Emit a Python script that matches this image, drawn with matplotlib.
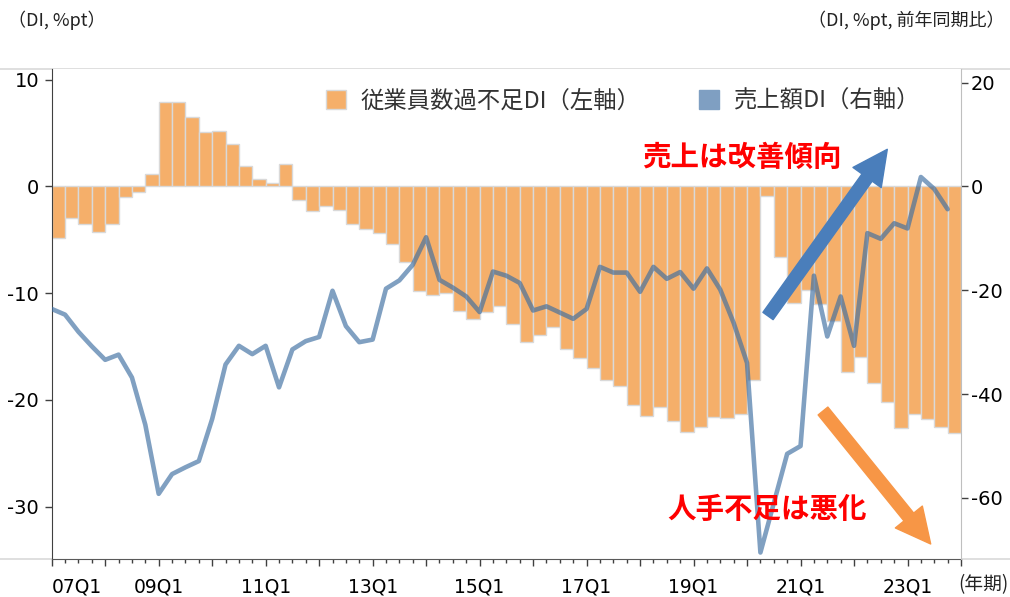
import numpy as np
import matplotlib
matplotlib.use("Agg")
import matplotlib.pyplot as plt
from matplotlib.patches import Patch, FancyArrowPatch
from matplotlib.lines import Line2D

plt.rcParams["axes.unicode_minus"] = False

# ---- data (quarterly, 2007Q1 .. 2023Q4) ----
emp_di = [-4.8, -3.0, -3.5, -4.3, -3.5, -1.0, -0.5, 1.2,
          7.9, 7.9, 6.5, 5.1, 5.2, 4.0, 1.95, 0.7,
          0.3, 2.1, -1.25, -2.3, -1.8, -2.2, -3.5, -4.0,
          -4.4, -5.4, -7.1, -9.8, -10.2, -10.0, -11.7, -12.4,
          -11.8, -11.2, -12.9, -14.6, -13.9, -13.2, -15.2, -16.1,
          -17.0, -18.1, -18.7, -20.5, -21.5, -20.7, -22.0, -23.0,
          -22.5, -21.6, -21.7, -21.3, -18.1, -0.9, -6.6, -10.9,
          -9.7, -11.0, -12.6, -17.4, -16.0, -18.4, -20.2, -22.6,
          -21.3, -21.8, -22.5, -23.1]
sales_di = [-23.6, -24.7, -28.0, -30.8, -33.4, -32.4, -36.8, -45.9,
            -59.2, -55.4, -54.1, -52.9, -44.8, -34.3, -30.7, -32.3,
            -30.7, -38.7, -31.4, -29.8, -29.0, -20.1, -26.9, -30.0,
            -29.5, -19.7, -18.1, -15.1, -9.8, -18.0, -19.5, -21.2,
            -24.2, -16.4, -17.2, -18.6, -23.9, -23.1, -24.3, -25.5,
            -23.6, -15.5, -16.6, -16.6, -20.3, -15.5, -17.8, -16.5,
            -19.7, -15.8, -19.9, -26.3, -34.0, -70.5, -61.0, -51.5,
            -50.0, -17.2, -28.9, -21.2, -30.7, -9.0, -10.1, -7.1,
            -8.1, 1.8, -0.5, -4.4]
tick_labels = ["07Q1", "09Q1", "11Q1", "13Q1", "15Q1", "17Q1", "19Q1", "21Q1", "23Q1"]
left_ticks = [10, 0, -10, -20, -30]
right_ticks = [20, 0, -20, -40, -60]
legend_labels = ["従業員数過不足DI（左軸）", "売上額DI（右軸）"]

W, H = 1010, 597
BAR_C = "#F5AF6A"
LINE_C = (60 / 255, 109 / 255, 161 / 255)
CJK = ["Noto Sans CJK JP", "DejaVu Sans"]

def fx(px):
    return px / W

def fy(py):
    return 1 - py / H

fig = plt.figure(figsize=(W / 100, H / 100), dpi=100)
ax = fig.add_axes([fx(51.7), fy(559), (961 - 51.7) / W, (559 - 69) / H])
ax2 = ax.twinx()

n = len(emp_di)
x = np.arange(n)
ax.bar(x, emp_di, width=1.0, align="edge", color=BAR_C, edgecolor="#D9D9D9",
       linewidth=1.0, zorder=2)
ax2.plot(x, sales_di, color=LINE_C, alpha=0.65, lw=3.3, solid_joinstyle="round",
         solid_capstyle="round")

ax.set_xlim(0, n)
ax.set_ylim(-34.9, 11.0)
ax2.set_ylim(-71.75, 22.6)

# x ticks
major = np.arange(0, n + 1, 4)
labs = [tick_labels[m // 8] if (m % 8 == 0 and m // 8 < len(tick_labels)) else "" for m in major]
ax.set_xticks(major)
ax.set_xticklabels(labs)
ax.set_xticks(np.arange(0, n + 1, 1), minor=True)
ax.get_xticklabels()[0].set_ha("left")
ax.tick_params(axis="x", which="major", direction="out", length=5, width=1,
               color="#404040", pad=8, labelsize=13.5)
ax.tick_params(axis="x", which="minor", direction="out", length=3, width=1,
               color="#404040")

ax.set_yticks(left_ticks)
ax.tick_params(axis="y", direction="out", length=5, width=1, color="#404040",
               labelsize=14, pad=4)
ax2.set_yticks(right_ticks)
ax2.tick_params(axis="y", direction="out", length=5, width=1, color="#404040",
                labelsize=14, pad=2)

for s in ["top", "right"]:
    ax.spines[s].set_visible(False)
ax.spines["left"].set_color("#404040")
ax.spines["bottom"].set_color("#595959")
for s in ["top", "left", "bottom"]:
    ax2.spines[s].set_visible(False)
ax2.spines["right"].set_color("#BFBFBF")

# frame lines across figure
for yy in (69, 559):
    fig.add_artist(Line2D([0, 1], [fy(yy), fy(yy)], transform=fig.transFigure,
                          color="#D9D9D9", lw=1.2, zorder=0))
ax.spines["bottom"].set_zorder(3)

# headers
fig.text(fx(8), fy(20), "（DI, %pt）", fontsize=13, ha="left", va="center",
         family=CJK, color="#222222")
fig.text(fx(1005), fy(20), "（DI, %pt, 前年同期比）", fontsize=13, ha="right",
         va="center", family=CJK, color="#222222")
fig.text(fx(1008), fy(585), "(年期)", fontsize=13.5, ha="right", va="center",
         family=CJK, color="#222222")

# legend
handles = [Patch(facecolor=BAR_C, edgecolor="#D9D9D9", label=legend_labels[0]),
           Patch(facecolor="#7F9FC2", edgecolor="#7F9FC2", label=legend_labels[1])]
fig.legend(handles=handles, loc="center left", bbox_to_anchor=(fx(326), fy(101)),
           bbox_transform=fig.transFigure, ncol=2, frameon=False,
           prop={"family": CJK, "size": 16.8}, handlelength=0.85, handleheight=0.85,
           handletextpad=0.65, columnspacing=2.5, borderpad=0, borderaxespad=0,
           labelcolor="#333333")

# annotations
fig.text(fx(741.7), fy(158), "売上は改善傾向", color="#FF0000", fontsize=20.5,
         fontweight="bold", ha="center", va="center", family=CJK)
fig.text(fx(766.7), fy(510), "人手不足は悪化", color="#FF0000", fontsize=20.5,
         fontweight="bold", ha="center", va="center", family=CJK)

style = "simple,head_length=0.5,head_width=0.5,tail_width=0.18"
fig.add_artist(FancyArrowPatch((fx(768), fy(316)), (fx(887.3), fy(149.3)),
                               transform=fig.transFigure, arrowstyle=style,
                               mutation_scale=50, color="#4A7EBB", shrinkA=0,
                               shrinkB=0, zorder=5))
fig.add_artist(FancyArrowPatch((fx(823), fy(411)), (fx(930.7), fy(544)),
                               transform=fig.transFigure, arrowstyle=style,
                               mutation_scale=50, color="#F79646", shrinkA=0,
                               shrinkB=0, zorder=5))

fig.savefig("out.png", dpi=100)
